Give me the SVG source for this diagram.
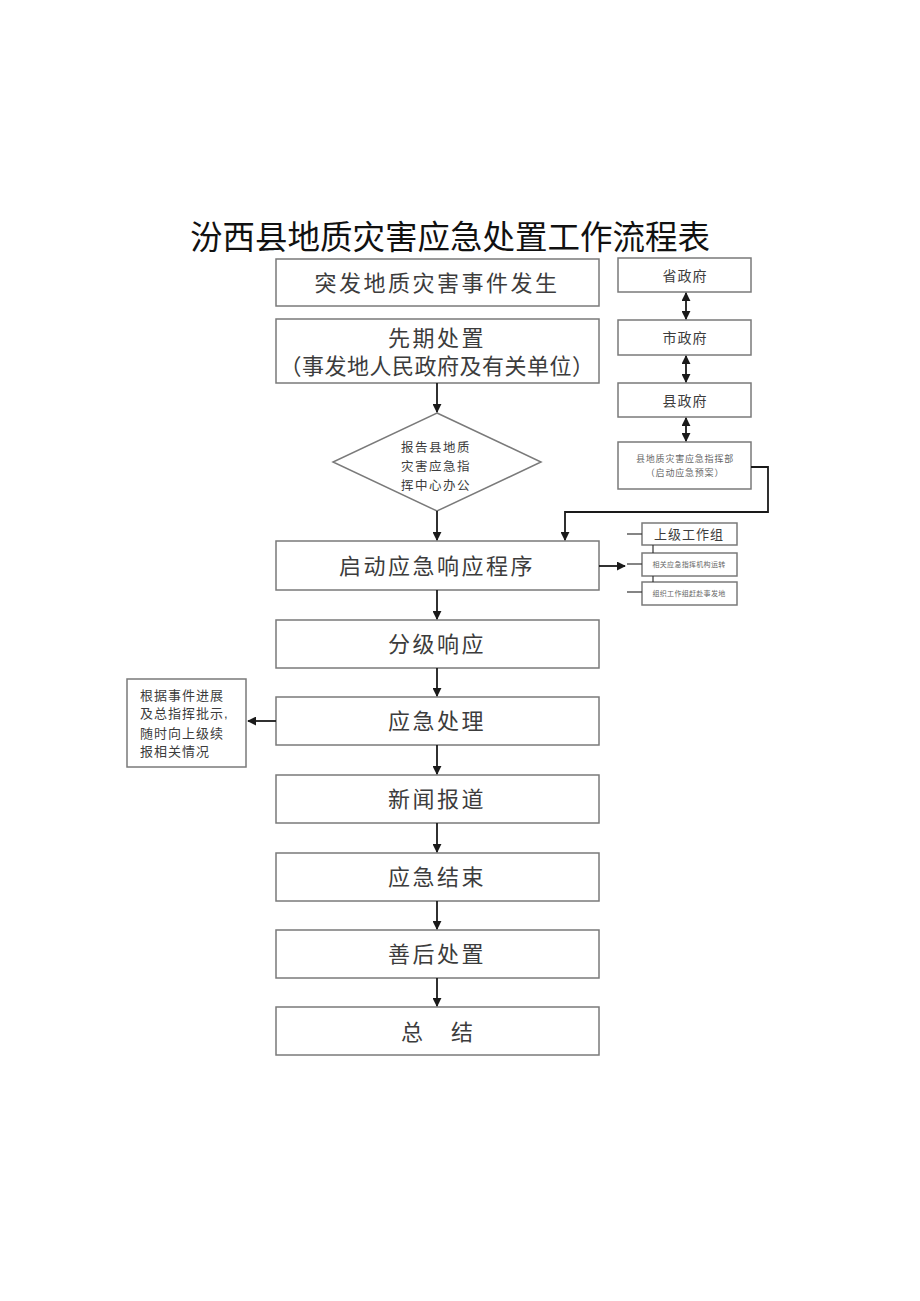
<svg xmlns="http://www.w3.org/2000/svg" width="920" height="1301" viewBox="0 0 920 1301">
<style>
text{font-family:"Liberation Sans","Noto Sans CJK SC",sans-serif;fill:#3c3c3c}
.box{fill:#fff;stroke:#7a7a7a;stroke-width:1.5}
.big{font-size:22px;letter-spacing:2.5px;text-anchor:middle}
.mid{font-size:14px;letter-spacing:1px;text-anchor:middle}
.sm{font-size:12.5px;letter-spacing:1.5px;text-anchor:middle}
.tiny{font-size:9px;letter-spacing:0.8px;text-anchor:middle;fill:#666}
.tiny2{font-size:7px;letter-spacing:0.3px;text-anchor:middle;fill:#666}
.ln{fill:none;stroke:#1a1a1a;stroke-width:1.8}
.lnt{fill:none;stroke:#333;stroke-width:1.2}
</style>
<defs>
<marker id="ah" viewBox="0 0 10 10" refX="9" refY="5" markerWidth="5" markerHeight="5" orient="auto-start-reverse">
<path d="M0,0 L10,5 L0,10 z" fill="#1a1a1a"/>
</marker>
</defs>
<rect width="920" height="1301" fill="#fff"/>
<text x="450" y="249" style="font-size:32.5px;text-anchor:middle;fill:#111">汾西县地质灾害应急处置工作流程表</text>

<g id="n1"><rect class="box" x="276" y="259" width="323" height="47"/><text class="big" x="437" y="291">突发地质灾害事件发生</text></g>
<g id="n2"><rect class="box" x="276" y="319" width="323" height="64"/><text class="big" x="437" y="346">先期处置</text><text class="big" x="437" y="374" style="letter-spacing:0.5px">（事发地人民政府及有关单位）</text></g>
<g id="n3"><path class="box" d="M437,413 L541,462 L437,511 L333,462 Z"/><text class="sm" x="436" y="452">报告县地质</text><text class="sm" x="436" y="471">灾害应急指</text><text class="sm" x="436" y="490">挥中心办公</text></g>
<g id="n4"><rect class="box" x="276" y="541" width="323" height="49"/><text class="big" x="437" y="574">启动应急响应程序</text></g>
<g id="n5"><rect class="box" x="276" y="620" width="323" height="48"/><text class="big" x="437" y="652">分级响应</text></g>
<g id="n6"><rect class="box" x="276" y="697" width="323" height="48"/><text class="big" x="437" y="729">应急处理</text></g>
<g id="n7"><rect class="box" x="276" y="775" width="323" height="48"/><text class="big" x="437" y="807">新闻报道</text></g>
<g id="n8"><rect class="box" x="276" y="853" width="323" height="48"/><text class="big" x="437" y="885">应急结束</text></g>
<g id="n9"><rect class="box" x="276" y="930" width="323" height="48"/><text class="big" x="437" y="962">善后处置</text></g>
<g id="n10"><rect class="box" x="276" y="1007" width="323" height="48"/><text class="big" x="437" y="1040" style="letter-spacing:0">总<tspan dx="28">结</tspan></text></g>

<g id="r1"><rect class="box" x="618" y="258" width="133" height="34"/><text class="mid" x="685" y="281">省政府</text></g>
<g id="r2"><rect class="box" x="618" y="320" width="133" height="35"/><text class="mid" x="685" y="343">市政府</text></g>
<g id="r3"><rect class="box" x="618" y="383" width="133" height="34"/><text class="mid" x="685" y="406">县政府</text></g>
<g id="r4"><rect class="box" x="618" y="442" width="133" height="47"/><text class="tiny" x="685" y="462">县地质灾害应急指挥部</text><text class="tiny" x="685" y="476">（启动应急预案）</text></g>

<g id="s1"><rect class="box" x="642" y="523" width="95" height="22"/><text x="689" y="539" style="font-size:13px;letter-spacing:1px;text-anchor:middle">上级工作组</text></g>
<g id="s2"><rect class="box" x="642" y="553" width="95" height="23"/><text class="tiny2" x="689" y="567">相关应急指挥机构运转</text></g>
<g id="s3"><rect class="box" x="642" y="582" width="95" height="23"/><text class="tiny2" x="689" y="596">组织工作组赶赴事发地</text></g>

<g id="l1"><rect class="box" x="127" y="679" width="119" height="88"/>
<text x="140" y="700" style="font-size:13px;letter-spacing:1px">根据事件进展</text>
<text x="140" y="718" style="font-size:13px;letter-spacing:1px">及总指挥批示,</text>
<text x="140" y="738" style="font-size:13px;letter-spacing:1px">随时向上级续</text>
<text x="140" y="756" style="font-size:13px;letter-spacing:1px">报相关情况</text></g>

<g id="connectors">
<line class="ln" x1="437" y1="383" x2="437" y2="412" marker-end="url(#ah)"/>
<line class="ln" x1="437" y1="511" x2="437" y2="540" marker-end="url(#ah)"/>
<line class="ln" x1="437" y1="590" x2="437" y2="619" marker-end="url(#ah)"/>
<line class="ln" x1="437" y1="668" x2="437" y2="696" marker-end="url(#ah)"/>
<line class="ln" x1="437" y1="745" x2="437" y2="774" marker-end="url(#ah)"/>
<line class="ln" x1="437" y1="823" x2="437" y2="852" marker-end="url(#ah)"/>
<line class="ln" x1="437" y1="901" x2="437" y2="929" marker-end="url(#ah)"/>
<line class="ln" x1="437" y1="978" x2="437" y2="1006" marker-end="url(#ah)"/>
<line class="ln" x1="686" y1="293" x2="686" y2="319" marker-start="url(#ah)" marker-end="url(#ah)"/>
<line class="ln" x1="686" y1="356" x2="686" y2="382" marker-start="url(#ah)" marker-end="url(#ah)"/>
<line class="ln" x1="686" y1="418" x2="686" y2="441" marker-start="url(#ah)" marker-end="url(#ah)"/>
<path class="ln" d="M751,467 L768,467 L768,512 L565,512 L565,540" marker-end="url(#ah)"/>
<line class="ln" x1="599" y1="566" x2="625" y2="566" marker-end="url(#ah)"/>
<line class="lnt" x1="627" y1="534" x2="642" y2="534"/>
<line class="lnt" x1="627" y1="564" x2="642" y2="564"/>
<line class="lnt" x1="627" y1="592" x2="642" y2="592"/>
<line class="lnt" x1="653" y1="545" x2="653" y2="553"/>
<line class="lnt" x1="653" y1="576" x2="653" y2="582"/>
<line class="ln" x1="276" y1="721" x2="248" y2="721" marker-end="url(#ah)"/>
</g>
</svg>
